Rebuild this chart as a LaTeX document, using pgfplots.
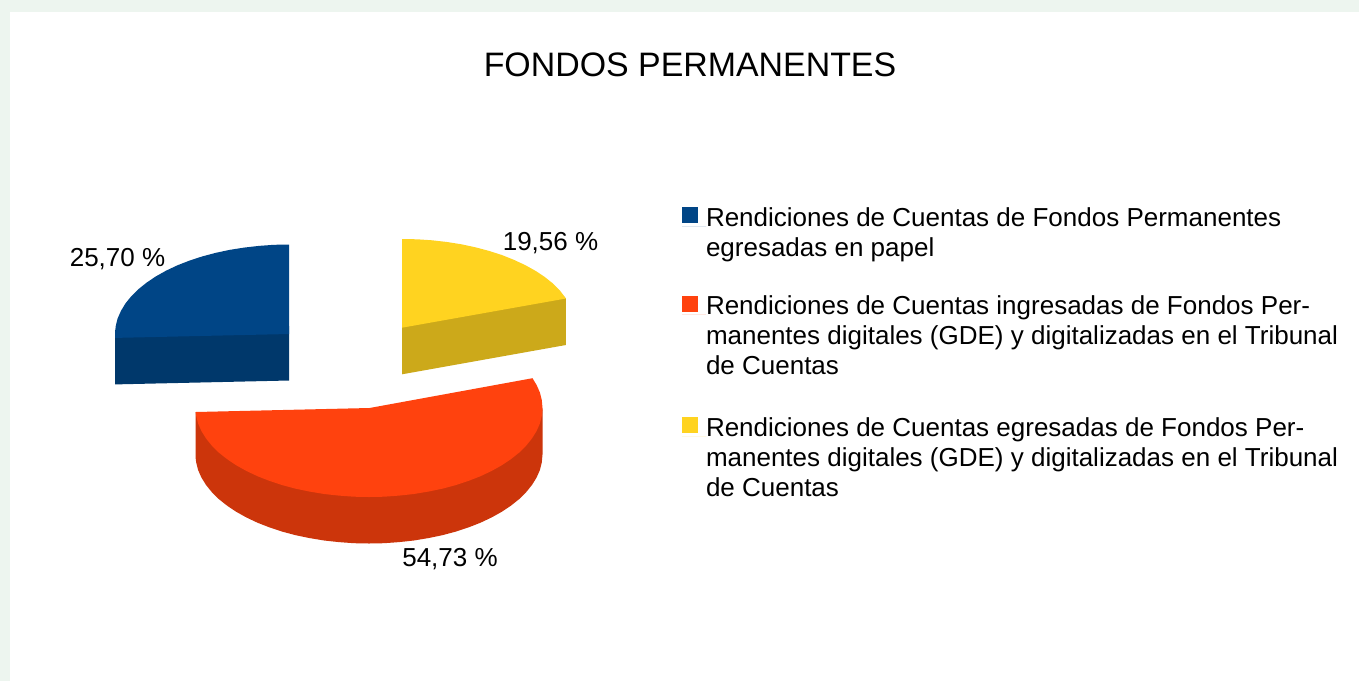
\documentclass[border=0pt]{standalone}
\usepackage{pgfplots}
\pgfplotsset{compat=1.18}
\usepackage{fontspec}
\setmainfont{Liberation Sans}
\definecolor{bgpage}{HTML}{EDF5EF}
\definecolor{blueTop}{HTML}{004586}
\definecolor{blueSide}{HTML}{00386B}
\definecolor{redTop}{HTML}{FF420E}
\definecolor{redSide}{HTML}{CC350B}
\definecolor{yelTop}{HTML}{FFD320}
\definecolor{yelSide}{HTML}{CCA91A}
\begin{document}
\begin{tikzpicture}
\begin{axis}[
  scale only axis, width=1359pt, height=681pt,
  xmin=0, xmax=1359, ymin=0, ymax=681, y dir=reverse,
  hide axis, clip=true,
  title={FONDOS PERMANENTES},
  title style={at={(axis cs:690,71)}, anchor=center, yshift=0pt, inner sep=0pt, font=\fontsize{33.9}{38}\selectfont},
  legend style={at={(axis cs:682,207.4)}, anchor=north west, draw=none, fill=none,
    inner sep=0pt, outer sep=0pt, row sep=68pt,
    font=\fontsize{26}{30}\selectfont,
    cells={anchor=base west},
    nodes={inner sep=0pt, outer sep=0pt}},
  legend image code/.code={\fill[#1] (0pt,3pt) rectangle (16pt,19pt); \path (0pt,0pt) -- (24pt,0pt);},
]
% page
\addplot[fill=bgpage, draw=none, forget plot] coordinates {(0,0)(1359,0)(1359,681)(0,681)};
\addplot[fill=white, draw=none, forget plot] coordinates {(10,12)(1359,12)(1359,681)(10,681)};
% sides
\addplot[fill=blueSide, draw=none, forget plot] coordinates {(115.2,330)(289,326)(289,380.5)(115.2,384.4)};
\addplot[fill=yelSide, draw=none, forget plot] coordinates {(402,320)(560,292)(565.9,298.5)(565.9,345)(402,374.3)};
\addplot[fill=redSide, draw=none, forget plot] coordinates {
 (542.5,408)(541.8,412)(539.9,418.5)(536.6,426)(532,433.4)(526.2,440.6)(519.3,447.5)(511.1,454)(501.9,460.2)(491.7,465.9)(480.5,471.2)(468.5,475.9)(455.8,480.1)(442.3,483.7)(428.3,486.6)(413.9,489)(399.1,490.6)(384.1,491.7)(369,492)(353.9,491.7)(338.9,490.6)(324.1,489)(309.7,486.6)(295.7,483.7)(282.2,480.1)(269.5,475.9)(257.5,471.2)(246.3,465.9)(236.1,460.2)(226.9,454)(218.7,447.5)(211.8,440.6)(206,433.4)(201.4,426)(198.1,418.5)(196.2,413.5)(195.7,412)
 (195.7,458.5)(196.2,462.3)(198.1,470)(201.4,477.5)(206,484.9)(211.8,492.1)(218.7,499)(226.9,505.5)(236.1,511.7)(246.3,517.4)(257.5,522.7)(269.5,527.4)(282.2,531.6)(295.7,535.2)(309.7,538.1)(324.1,540.5)(338.9,542.1)(353.9,543.2)(369,543.5)(384.1,543.2)(399.1,542.1)(413.9,540.5)(428.3,538.1)(442.3,535.2)(455.8,531.6)(468.5,527.4)(480.5,522.7)(491.7,517.4)(501.9,511.7)(511.1,505.5)(519.3,499)(526.2,492.1)(532,484.9)(536.6,477.5)(539.9,470)(541.8,462.3)(542.5,454.5)
};
% tops (legend order)
\addplot[fill=blueTop, draw=none] coordinates {
 (289,334)(289,244.5)(273.8,244.8)(258.8,245.9)(244,247.6)(229.5,249.9)(215.5,252.9)(202,256.5)(189.2,260.7)(177.2,265.4)(166,270.7)(155.7,276.5)(146.5,282.7)(138.3,289.3)(131.3,296.2)(125.5,303.4)(121,310.8)(117.6,318.5)(115.7,326.2)(115,334)(115.2,337.9)
};
\addlegendentry{\parbox[t]{640pt}{\raggedright Rendiciones de Cuentas de Fondos Permanentes\\egresadas en papel}}
\addplot[fill=redTop, draw=none] coordinates {
 (369.5,408)(532.5,378.2)(536.6,385)(539.9,392.5)(541.8,400.2)(542.5,408)(541.8,415.8)(539.9,423.5)(536.6,431)(532,438.4)(526.2,445.6)(519.3,452.5)(511.1,459)(501.9,465.2)(491.7,470.9)(480.5,476.2)(468.5,480.9)(455.8,485.1)(442.3,488.7)(428.3,491.6)(413.9,494)(399.1,495.6)(384.1,496.7)(369,497)(353.9,496.7)(338.9,495.6)(324.1,494)(309.7,491.6)(295.7,488.7)(282.2,485.1)(269.5,480.9)(257.5,476.2)(246.3,470.9)(236.1,465.2)(226.9,459)(218.7,452.5)(211.8,445.6)(206,438.4)(201.4,431)(198.1,423.5)(196.2,415.8)(195.7,412)
};
\addlegendentry{\parbox[t]{640pt}{\raggedright Rendiciones de Cuentas ingresadas de Fondos Per-\\manentes digitales (GDE) y digitalizadas en el Tribunal\\de Cuentas}}
\addplot[fill=yelTop, draw=none] coordinates {
 (402,327.7)(402,239)(417.2,239.3)(432.2,240.3)(447,242)(461.5,244.3)(475.5,247.3)(489,250.9)(501.8,255)(513.8,259.8)(525,265)(535.3,270.7)(544.5,276.8)(552.7,283.3)(559.7,290.2)(565.9,298.5)
};
\addlegendentry{\parbox[t]{640pt}{\raggedright \rule{0pt}{52pt}Rendiciones de Cuentas egresadas de Fondos Per-\\manentes digitales (GDE) y digitalizadas en el Tribunal\\de Cuentas}}
\node[font=\fontsize{26}{30}\selectfont, inner sep=0pt] at (axis cs:117.5,259) {25,70 \%};
\node[font=\fontsize{26}{30}\selectfont, inner sep=0pt] at (axis cs:550.5,243.5) {19,56 \%};
\node[font=\fontsize{26}{30}\selectfont, inner sep=0pt] at (axis cs:450,559) {54,73 \%};
\end{axis}
\end{tikzpicture}
\end{document}
